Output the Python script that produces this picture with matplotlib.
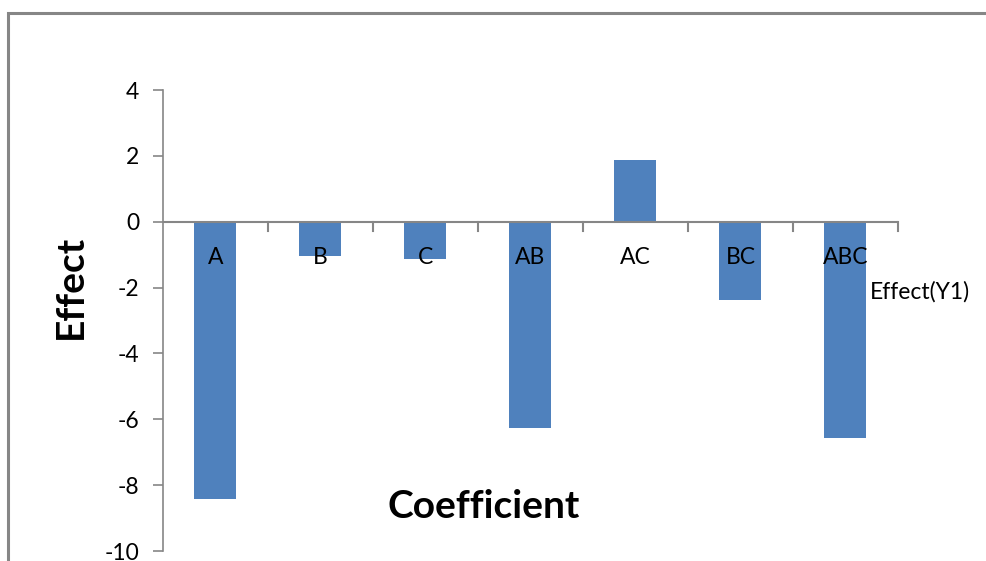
import numpy as np
import matplotlib
matplotlib.use("Agg")
from matplotlib import pyplot as plt
from matplotlib.patches import Rectangle

plt.rcParams['font.family'] = ['Lato', 'DejaVu Sans']

categories = ['A', 'B', 'C', 'AB', 'AC', 'BC', 'ABC']
effects = [-8.42, -1.03, -1.12, -6.27, 1.86, -2.37, -6.58]
series_name = 'Effect(Y1)'
y_ticks = [-10, -8, -6, -4, -2, 0, 2, 4]

bar_color = '#4F81BD'
axis_color = '#868686'

W, H = 987, 561
fig = plt.figure(figsize=(W / 100, H / 100), dpi=100)

# outer chart border (cropped on right and bottom)
fig.patches.append(Rectangle((8 / W, -0.1), 1.2, 1 - 13 / H + 0.1, transform=fig.transFigure,
                             fill=False, edgecolor=axis_color, linewidth=2.2))

ax = fig.add_axes([163 / W, 1 - 551 / H, (898 - 163) / W, (551 - 90) / H])
x = np.arange(len(categories))
ax.bar(x, effects, width=0.4, color=bar_color, zorder=2)

ax.set_xlim(-0.5, len(categories) - 0.5)
ax.set_ylim(-10, 4)
ax.set_yticks(y_ticks)
ax.set_yticklabels([str(t) for t in y_ticks], fontsize=16.5)
ax.tick_params(axis='y', length=7, width=1.2, color=axis_color, pad=10)
ax.set_xticks([])

for s in ['top', 'right', 'bottom']:
    ax.spines[s].set_visible(False)
ax.spines['left'].set_color(axis_color)
ax.spines['left'].set_linewidth(1.2)

# horizontal axis line at zero with category boundary ticks
ax.axhline(0, color=axis_color, linewidth=1.5, zorder=3)
for b in np.arange(0.5, len(categories) + 0.5):
    ax.plot([b, b], [0, -0.28], color=axis_color, linewidth=1.5, zorder=3, clip_on=False)

for xi, lab in zip(x, categories):
    ax.annotate(lab, (xi, 0), xytext=(0, -36), textcoords='offset pixels',
                ha='center', va='center', fontsize=16.5, zorder=4)

fig.text(70 / W, 1 - 287 / H, 'Effect', rotation=90, fontsize=28, fontweight='bold',
         ha='center', va='center')
fig.text(484 / W, 1 - 506 / H, 'Coefficient', fontsize=28, fontweight='bold',
         ha='center', va='center')
fig.text(870 / W, 1 - 292 / H, series_name, fontsize=16.5, ha='left', va='center')

fig.savefig('out.png', dpi=100)
